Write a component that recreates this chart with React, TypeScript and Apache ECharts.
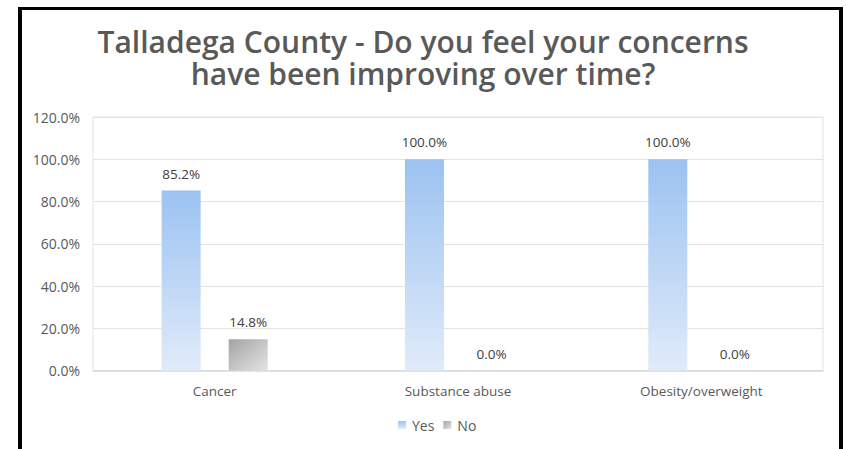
import React, { useEffect, useRef } from "react";
import * as echarts from "echarts";

const titleLines = ["Talladega County - Do you feel your concerns", "have been improving over time?"];
const categories = ["Cancer", "Substance abuse", "Obesity/overweight"];
const yesValues = [85.2, 100.0, 100.0];
const noValues = [14.8, 0.0, 0.0];
const seriesNames = ["Yes", "No"];
const yMin = 0;
const yMax = 120;
const yInterval = 20;

export default function App() {
  const ref = useRef<HTMLDivElement>(null);
  useEffect(() => {
    if (!ref.current) return;
    const chart = echarts.init(ref.current, undefined, { renderer: "svg" });
    const labelStyle = {
      show: true,
      position: "top" as const,
      distance: 10,
      fontFamily: "Open Sans",
      fontSize: 13.5,
      color: "#404040",
      formatter: (p: any) => `${Number(p.value).toFixed(1)}%`,
    };
    const titleStyle = {
      fontFamily: "Open Sans",
      fontWeight: 600,
      fontSize: 30,
      lineHeight: 31,
      color: "#595959",
    };
    chart.setOption({
      animation: false,
      backgroundColor: "transparent",
      title: [
        { text: titleLines[0], left: "center", top: 26, padding: 0, textStyle: titleStyle },
        { text: titleLines[1], left: "center", top: 58, padding: 0, textStyle: titleStyle },
      ],
      legend: {
        data: seriesNames,
        bottom: 12,
        left: 393,
        itemWidth: 8,
        itemHeight: 8,
        itemGap: 9,
        icon: "rect",
        textStyle: { fontFamily: "Open Sans", fontSize: 14, color: "#595959", padding: [0, 0, 0, 1] },
      },
      grid: {
        left: 93,
        right: 23,
        top: 117,
        bottom: 78.5,
        show: true,
        borderColor: "#dde5f0",
        borderWidth: 1,
      },
      xAxis: {
        type: "category",
        data: categories,
        axisTick: { show: false },
        axisLine: { lineStyle: { color: "#d9d9d9", width: 1.5 } },
        axisLabel: { fontFamily: "Open Sans", fontSize: 13.5, color: "#595959", margin: 13 },
      },
      yAxis: {
        type: "value",
        min: yMin,
        max: yMax,
        interval: yInterval,
        axisLine: { show: false },
        axisTick: { show: false },
        splitLine: { lineStyle: { color: "#e3e3e3", width: 1 } },
        axisLabel: {
          fontFamily: "Open Sans",
          fontSize: 14,
          color: "#595959",
          margin: 13,
          formatter: (v: number) => `${v.toFixed(1)}%`,
        },
      },
      series: [
        {
          name: seriesNames[0],
          type: "bar",
          data: yesValues,
          barWidth: 39,
          barGap: "72%",
          itemStyle: {
            color: new echarts.graphic.LinearGradient(0, 0, 0, 1, [
              { offset: 0, color: "#9bc2f1" },
              { offset: 1, color: "#e0ebfa" },
            ]),
          },
          label: labelStyle,
        },
        {
          name: seriesNames[1],
          type: "bar",
          data: noValues,
          barWidth: 39,
          itemStyle: {
            color: new echarts.graphic.LinearGradient(0, 0, 1, 1, [
              { offset: 0, color: "#a3a3a3" },
              { offset: 1, color: "#e4e4e4" },
            ]),
          },
          label: labelStyle,
        },
      ],
    });
    return () => chart.dispose();
  }, []);
  return (
    <div style={{ position: "fixed", left: 0, top: 0, width: 846, height: 449, background: "#fff", overflow: "hidden" }}>
      <div
        style={{
          position: "absolute",
          left: 18,
          top: 7,
          width: 825,
          height: 460,
          boxSizing: "border-box",
          borderLeft: "4px solid #000",
          borderRight: "4px solid #000",
          borderTop: "3px solid #000",
        }}
      />
      <div ref={ref} style={{ position: "absolute", left: 0, top: 0, width: 846, height: 449 }} />
    </div>
  );
}
